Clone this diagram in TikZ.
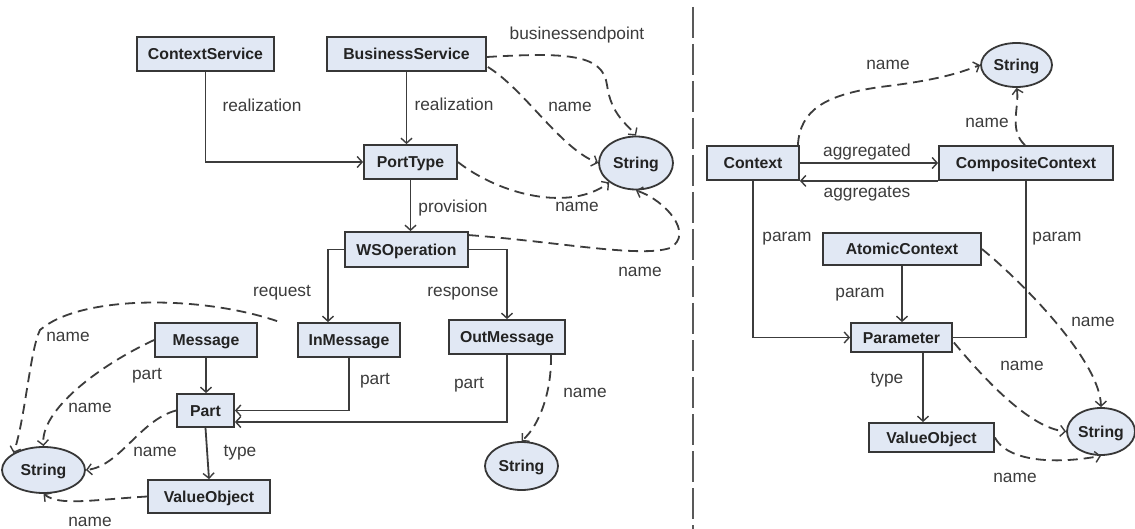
\documentclass[tikz,border=0pt]{standalone}
\usepackage{fontspec}
\setmainfont{Liberation Sans}
\usetikzlibrary{arrows.meta,shapes.geometric,calc}
\definecolor{boxfill}{RGB}{225,232,244}
\definecolor{boxline}{RGB}{55,55,55}
\definecolor{txt}{RGB}{35,35,35}
\definecolor{lbltxt}{RGB}{60,60,60}
\definecolor{linec}{RGB}{60,60,60}
\tikzset{
  box/.style={draw=boxline, fill=boxfill, line width=1.8pt, inner sep=0pt,
    minimum height=34pt, text height=11.5pt, text depth=0pt, text=txt,
    font=\bfseries\fontsize{15.8}{18}\selectfont},
  strnode/.style={ellipse, draw=boxline, fill=boxfill, line width=1.8pt, inner sep=0pt,
    text height=11.5pt, text depth=0pt, text=txt,
    font=\bfseries\fontsize{15.8}{18}\selectfont},
  lbl/.style={inner sep=0pt, text height=12pt, text depth=3.5pt, text=lbltxt,
    font=\fontsize{17.3}{20}\selectfont},
  conn/.style={draw=linec, line width=1.8pt, -{Straight Barb[length=5pt,width=11pt,line width=1.4pt]}},
  plainline/.style={draw=linec, line width=1.8pt},
  dconn/.style={conn, dash pattern=on 10pt off 6pt},
  sep/.style={draw=linec!85, line width=2pt, dash pattern=on 31pt off 6pt}
}
\begin{document}
\begin{tikzpicture}[x=1pt,y=-1pt]
\useasboundingbox (0,0) rectangle (1135,529);
\fill[white] (0,0) rectangle (1135,529);

% separator
\coordinate (septop) at (693,7);
\coordinate (sepbot) at (693,529);
\draw[sep] (septop) -- (sepbot);

% ---------------- left part ----------------
\node[box, minimum width=137pt] (cs) at (205.5,54) {ContextService};
\node[box, minimum width=159pt] (bs) at (406.5,54) {BusinessService};
\node[box, minimum width=93pt] (pt) at (410.5,162) {PortType};
\node[strnode, minimum width=74pt, minimum height=53pt] (s1) at (636,163) {String};
\node[box, minimum width=123pt, minimum height=35pt] (ws) at (406.5,249.5) {WSOperation};
\node[box, minimum width=102pt] (in) at (349,340) {InMessage};
\node[box, minimum width=116pt] (out) at (507,337) {OutMessage};
\node[box, minimum width=102pt] (msg) at (206,340) {Message};
\node[box, minimum width=57pt, minimum height=33pt] (part) at (205.5,410.5) {Part};
\node[box, minimum width=122pt, minimum height=33pt] (vo1) at (209,496.5) {ValueObject};
\node[strnode, minimum width=83pt, minimum height=46pt] (s2) at (43.5,470) {String};
\node[strnode, minimum width=73pt, minimum height=48pt] (s3) at (521.5,466) {String};

% solid connectors
\coordinate (inIn) at ($(in.north)+(-21,0)$);
\coordinate (partLow) at ($(part.east)+(0,11.5)$);
\draw[conn] (cs.south) |- (pt.west);
\draw[conn] (bs.south) -- (bs.south |- pt.north);
\draw[conn] (pt.south) -- (pt.south |- ws.north);
\draw[conn] (ws.west) -| (inIn);
\draw[conn] (ws.east) -| (out.north);
\draw[conn] (msg.south) -- (msg.south |- part.north);
\draw[conn] (in.south) |- (part.east);
\draw[conn] (out.south) |- (partLow);
\draw[conn] (part.south) -- (vo1.north);

% dashed connectors
\draw[dconn] ($(bs.east)+(0,3)$) .. controls (570,52) and (603,55) .. (607,85)
   .. controls (611,115) and (628,125) .. (s1.north);
\draw[dconn] ($(bs.east)+(1,13)$) .. controls (525,90) and (560,148) .. (s1.west);
\draw[dconn] (pt.east) .. controls (500,195) and (570,212) .. (s1.south west);
\draw[dconn] ($(ws.north east)+(0,4)$) .. controls (560,242) and (640,258) .. (670,248)
   .. controls (695,234) and (665,200) .. (s1.south);
\draw[dconn] ($(in.north west)+(-20,-1)$) .. controls (200,295) and (80,295) .. (40,330)
   .. controls (30,350) and (25,420) .. (s2.north west);
\draw[dconn] (msg.west) .. controls (100,365) and (40,410) .. (s2.north);
\draw[dconn] (part.west) .. controls (140,420) and (120,466) .. (s2.east);
\draw[dconn] (vo1.west) .. controls (90,500) and (60,506) .. (s2.south);
\draw[dconn] ($(out.south east)+(-15,0)$) .. controls (552,390) and (540,425) .. (s3.north);

% labels left
\node[lbl] (l1) at (262,107) {realization};
\node[lbl] (l2) at (454,106) {realization};
\node[lbl] (l3) at (577,35) {businessendpoint};
\node[lbl] (l4) at (570,107) {name};
\node[lbl] (l5) at (577,207) {name};
\node[lbl] (l6) at (453,208) {provision};
\node[lbl] (l7) at (640,272) {name};
\node[lbl] (l8) at (282,292) {request};
\node[lbl] (l9) at (463,292) {response};
\node[lbl] (l10) at (68,337) {name};
\node[lbl] (l11) at (147,375) {part};
\node[lbl] (l12) at (90,408) {name};
\node[lbl] (l13) at (155,452) {name};
\node[lbl] (l14) at (240,452) {type};
\node[lbl] (l15) at (90,522) {name};
\node[lbl] (l16) at (375,380) {part};
\node[lbl] (l17) at (469,384) {part};
\node[lbl] (l18) at (585,393) {name};

% ---------------- right part ----------------
\node[box, minimum width=92pt] (ctx) at (753,163) {Context};
\node[box, minimum width=174pt] (cc) at (1026,163) {CompositeContext};
\node[strnode, minimum width=71pt, minimum height=44pt] (s4) at (1016.5,65) {String};
\node[box, minimum width=158pt, minimum height=32pt] (ac) at (902,249) {AtomicContext};
\node[box, minimum width=101pt, minimum height=29pt] (par) at (901.5,337.5) {Parameter};
\node[box, minimum width=125pt, minimum height=29pt] (vo2) at (931.5,437.5) {ValueObject};
\node[strnode, minimum width=68pt, minimum height=47pt] (s5) at (1101,431.5) {String};

\coordinate (pv) at ($(par.south)+(21.5,0)$);
\draw[conn] (ctx.east) -- (cc.west);
\draw[conn] (cc.south west) -- (ctx.south east);
\draw[conn] (ctx.south) |- (par.west);
\draw[plainline] (cc.south) |- (par.east);
\draw[conn] (ac.south) -- (ac.south |- par.north);
\draw[conn] (pv) -- (pv |- vo2.north);

\draw[dconn] ($(ctx.north east)+(-2,0)$) .. controls (800,110) and (825,95) .. (880,87)
   .. controls (940,80) and (962,72) .. (s4.west);
\draw[dconn] ($(cc.north)+(-1,0)$) .. controls (1008,130) and (1020,105) .. (s4.south);
\draw[dconn] (ac.east) .. controls (1020,280) and (1100,360) .. (s5.north);
\draw[dconn] ($(par.east)+(1,5)$) .. controls (985,380) and (1030,428) .. (s5.west);
\draw[dconn] (vo2.east) .. controls (1005,458) and (1045,466) .. (s5.south);

\node[lbl] (r1) at (888,65) {name};
\node[lbl] (r2) at (987,123) {name};
\node[lbl] (r3) at (867,152) {aggregated};
\node[lbl] (r4) at (867,193) {aggregates};
\node[lbl] (r5) at (787,237) {param};
\node[lbl] (r6) at (1057,237) {param};
\node[lbl] (r7) at (860,293) {param};
\node[lbl] (r8) at (1093,322) {name};
\node[lbl] (r9) at (1022,366) {name};
\node[lbl] (r10) at (887,379) {type};
\node[lbl] (r11) at (1015,478) {name};
\end{tikzpicture}
\end{document}
